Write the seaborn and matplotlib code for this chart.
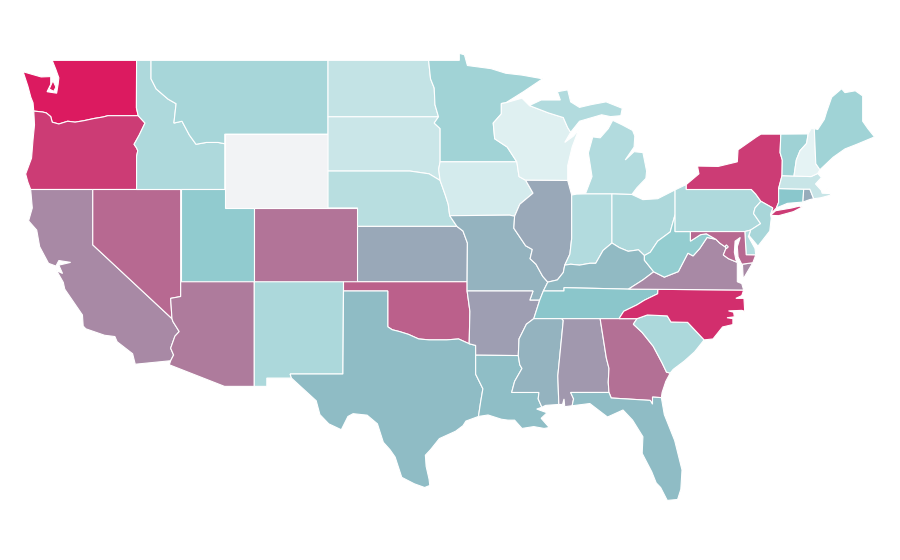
import matplotlib
matplotlib.use("Agg")
import matplotlib.pyplot as plt
import pandas as pd
import seaborn as sns

# values per state (0 = palest, 100 = deepest pink), WY has no value
state_names = ["WA", "OR", "CA", "NV", "ID", "MT", "WY", "UT", "AZ", "CO", "NM", "ND", "SD", "NE", "KS", "OK",
               "TX", "MN", "IA", "MO", "AR", "LA", "WI", "IL", "MI", "IN", "OH", "KY", "TN", "MS", "AL", "GA",
               "FL", "SC", "NC", "VA", "WV", "PA", "NY", "NJ", "DE", "MD", "DC", "CT", "RI", "MA", "VT", "NH", "ME"]
state_values = [100, 90, 68, 77, 32, 35.5, None, 46.5, 72, 74, 33, 21.5, 18, 27, 59, 80,
                53.5, 38.5, 13, 56, 62, 53, 7.5, 59, 30, 30, 32.5, 54, 50.5, 56, 64, 75,
                53.5, 33, 94, 68, 45, 32, 90, 35, 30, 77, 60, 50, 58, 19, 39.5, 4.5, 39]
scale_colors = ["#eef7f8", "#8ac8cc", "#dc1a60"]
no_data_color = "#f2f3f5"

# shared borders as (lon, lat), so neighbouring states line up
columbia = [(-124.0, 46.25), (-123.4, 46.2), (-123.15, 46.15), (-122.85, 45.95), (-122.75, 45.65), (-122.3, 45.55),
            (-121.7, 45.7), (-121.2, 45.65), (-120.6, 45.73), (-119.9, 45.85), (-119.3, 45.93), (-118.98, 46.0),
            (-116.92, 46.0)]
snake = [(-116.92, 46.0), (-116.46, 45.6), (-116.85, 44.95), (-117.2, 44.45), (-117.03, 44.25), (-116.95, 44.1),
         (-117.03, 43.8), (-117.03, 42)]
bitterroot = [(-116.05, 49), (-116.05, 48), (-115.7, 47.45), (-114.9, 46.9), (-114.35, 46.65), (-114.5, 45.6),
              (-113.95, 45.7), (-113.45, 44.95), (-113.0, 44.45), (-112.3, 44.55), (-111.5, 44.55), (-111.05, 44.48)]
colorado_river = [(-114.63, 35), (-114.57, 34.85), (-114.14, 34.3), (-114.43, 34.05), (-114.72, 33.4),
                  (-114.52, 33.03), (-114.72, 32.72)]
red_river = [(-100, 34.56), (-99.7, 34.4), (-99.2, 34.3), (-98.6, 34.15), (-97.9, 33.9), (-97.2, 33.85),
             (-96.6, 33.85), (-96.0, 33.85), (-95.2, 33.9), (-94.48, 33.64)]
red_north = [(-97.23, 49), (-97.1, 48), (-96.85, 47.5), (-96.8, 46.6), (-96.56, 45.94), (-96.85, 45.6),
             (-96.45, 45.3), (-96.45, 43.5)]
missouri = [(-96.45, 43.5), (-96.55, 43.1), (-96.45, 42.49), (-96.1, 41.7), (-95.9, 41.2), (-95.8, 40.58),
            (-95.31, 40)]
miss_upper = [(-92.3, 46.66), (-92.3, 46.1), (-92.85, 45.6), (-92.75, 44.75), (-91.9, 44.3), (-91.25, 43.5),
              (-91.1, 42.7), (-90.65, 42.5)]
miss_ia = [(-90.65, 42.5), (-90.15, 41.8), (-91.05, 41.2), (-91.4, 40.55)]
miss_mo = [(-91.4, 40.55), (-91.45, 39.9), (-90.65, 38.95), (-90.2, 38.75), (-90.35, 38.25), (-89.95, 37.95),
           (-89.5, 37.3), (-89.15, 36.98)]
miss_ar = [(-90.1, 35), (-90.6, 34.7), (-91.1, 33.9), (-91.15, 33)]
miss_la = [(-91.15, 33), (-91.05, 32.5), (-90.9, 32.3), (-91.4, 31.6), (-91.6, 31)]
ohio_il = [(-89.15, 36.98), (-88.5, 37.1), (-88.1, 37.5), (-88, 37.9)]
ohio_in = [(-88, 37.9), (-87.6, 37.95), (-87, 37.9), (-86.3, 38), (-85.9, 38), (-85.4, 38.7), (-84.8, 39.1)]
ohio_oh = [(-84.8, 39.1), (-84.3, 38.85), (-83.7, 38.65), (-83, 38.73), (-82.6, 38.42)]
ohio_wv = [(-82.6, 38.42), (-82.2, 38.6), (-81.7, 39.2), (-80.85, 39.7), (-80.52, 40.64)]
tn_nc = [(-81.68, 36.59), (-81.7, 36.35), (-82.6, 36), (-83.1, 35.75), (-84, 35.4), (-84.32, 35)]
savannah = [(-83.1, 35), (-83.35, 34.7), (-82.75, 34.25), (-82, 33.5), (-81.4, 32.6), (-81.1, 32.1), (-80.85, 32.05)]
carolina = [(-83.1, 35), (-82.4, 35.2), (-81.05, 35.15), (-80.8, 34.82), (-79.67, 34.8), (-78.55, 33.85)]
chattahoochee = [(-85.6, 35), (-85.18, 32.87), (-85, 32.3), (-85.05, 31.55), (-85, 31)]
va_wv = [(-77.75, 39.3), (-78.35, 39.4), (-78.85, 38.8), (-79.3, 38.4), (-79.65, 38.55), (-80.3, 37.55),
         (-81.25, 37.25), (-81.97, 37.54)]
potomac_wv = [(-77.75, 39.3), (-78.4, 39.6), (-78.8, 39.55), (-79.48, 39.2)]
potomac_va = [(-76.3, 38.05), (-76.9, 38.25), (-77.25, 38.45), (-77.05, 38.85), (-77.5, 39.1), (-77.75, 39.3)]
delaware_ny = [(-75.35, 42), (-75.05, 41.75), (-74.7, 41.36)]
delaware_nj = [(-74.7, 41.36), (-75.1, 41), (-75.2, 40.7), (-74.72, 40.15), (-75.4, 39.8)]
vt_nh = [(-71.5, 45.01), (-71.6, 44.5), (-72.05, 44.1), (-72.3, 43.6), (-72.46, 42.73)]
ny_vt = [(-73.35, 45), (-73.4, 44), (-73.25, 43.6), (-73.27, 42.75)]

outlines = {
    "WA": [[(-124.05, 46.7), (-124.2, 47.0), (-124.4, 47.6), (-124.72, 48.38), (-123.5, 48.1), (-122.85, 48.12),
            (-122.85, 47.7), (-123.1, 47.3), (-122.45, 47.22), (-122.35, 47.7), (-122.3, 48.05),
            (-122.5, 48.5), (-122.75, 49), (-117.03, 49), (-117.04, 46.42)] + columbia[::-1],
           [(-122.7, 47.9), (-122.95, 47.45), (-122.65, 47.32), (-122.5, 47.55)]],
    "OR": [columbia + snake[1:] + [(-124.21, 42), (-124.4, 42.4), (-124.55, 42.84), (-124.15, 43.7), (-124.05, 44.7),
                                   (-123.95, 45.5)]],
    "CA": [[(-124.21, 42), (-120, 42), (-120, 39)] + colorado_river +
           [(-117.12, 32.53), (-117.3, 33.1), (-118.35, 33.75), (-118.5, 34.03), (-119.2, 34.1),
            (-120.47, 34.45), (-120.65, 34.6), (-120.7, 35.2), (-121.9, 36.6), (-122.0, 36.97), (-122.45, 37.6),
            (-122.05, 37.45), (-122.3, 37.9), (-121.5, 38.05), (-122.3, 38.15), (-122.5, 37.85), (-123, 38.0),
            (-123.6, 38.9), (-123.8, 39.8), (-124.35, 40.3), (-124.1, 41.0)]],
    "NV": [[(-120, 42), (-114.04, 42), (-114.04, 36.2), (-114.72, 36.1), (-114.63, 35), (-120, 39)]],
    "ID": [[(-117.03, 49)] + bitterroot + [(-111.05, 42)] + snake[::-1] + [(-117.04, 46.42)]],
    "MT": [[(-116.05, 49), (-104.05, 49), (-104.05, 45), (-111.05, 45)] + bitterroot[::-1]],
    "WY": [[(-111.05, 45), (-104.05, 45), (-104.05, 41), (-111.05, 41)]],
    "UT": [[(-114.04, 42), (-111.05, 42), (-111.05, 41), (-109.05, 41), (-109.05, 37), (-114.04, 37)]],
    "AZ": [[(-114.04, 37), (-109.05, 37), (-109.05, 31.33), (-111.07, 31.33), (-114.81, 32.5)] + colorado_river[::-1] +
           [(-114.72, 36.1), (-114.04, 36.2)]],
    "CO": [[(-109.05, 41), (-102.05, 41), (-102.05, 37), (-109.05, 37)]],
    "NM": [[(-109.05, 37), (-103, 37), (-103.04, 32), (-106.62, 32), (-106.53, 31.78), (-108.2, 31.78),
            (-108.2, 31.33), (-109.05, 31.33)]],
    "ND": [[(-104.05, 49)] + red_north[:5] + [(-104.05, 45.94)]],
    "SD": [[(-104.05, 45.94)] + red_north[4:] + missouri[1:3] + [(-97.2, 42.85), (-98.5, 43), (-104.05, 43)]],
    "NE": [[(-104.05, 43), (-98.5, 43), (-97.2, 42.85)] + missouri[2:] + [(-102.05, 40), (-102.05, 41), (-104.05, 41)]],
    "KS": [[(-102.05, 40), (-95.31, 40), (-94.9, 39.75), (-94.6, 39.1), (-94.62, 37), (-102.05, 37)]],
    "OK": [[(-103, 37), (-94.62, 37), (-94.62, 36.5), (-94.43, 35.4)] + red_river[::-1] +
           [(-100, 36.5), (-103, 36.5)]],
    "TX": [[(-103, 36.5), (-100, 36.5)] + red_river +
           [(-94.04, 33.55), (-94.04, 33.02), (-94.04, 31.99), (-93.55, 31.2), (-93.7, 30.5), (-93.85, 29.7),
            (-94.7, 29.45), (-94.9, 29.2), (-95.4, 28.9), (-96.5, 28.5), (-97.1, 27.9), (-97.45, 27.6), (-97.4, 27.0),
            (-97.2, 26.3), (-97.15, 25.96), (-97.5, 25.85), (-98.2, 26.05), (-99.05, 26.4), (-99.5, 27.5),
            (-99.85, 27.9), (-100.3, 28.3), (-100.7, 29.3), (-101.4, 29.77), (-102.35, 29.85), (-102.7, 29.7),
            (-103.15, 28.98), (-104.0, 29.3), (-104.6, 29.8), (-104.85, 30.55), (-106.0, 31.39), (-106.53, 31.78),
            (-106.62, 32), (-103.04, 32)]],
    "MN": [[(-97.23, 49), (-95.15, 49), (-95.15, 49.38), (-94.8, 49.3), (-94.6, 48.72), (-93.0, 48.55), (-92.0, 48.3),
            (-90.9, 48.2), (-89.5, 48.0), (-90.8, 47.3), (-92.0, 46.7)] + miss_upper[:6] + red_north[::-1]],
    "IA": [[(-96.45, 43.5)] + miss_upper[5:] + miss_ia[1:] + [(-91.73, 40.61), (-95.8, 40.58)] + missouri[4::-1][:-1]],
    "WI": [[(-92.0, 46.7), (-90.9, 46.95), (-90.4, 46.55), (-89.1, 46.15), (-88.1, 45.9), (-87.8, 45.35), (-87.6, 45.1),
            (-88.0, 44.55), (-87.4, 44.9), (-87.05, 45.25), (-87.5, 44.3), (-87.8, 43.3), (-87.8, 42.49)] +
           miss_upper[::-1]],
    "IL": [[(-90.65, 42.5), (-87.8, 42.49), (-87.53, 41.7), (-87.53, 39.35), (-87.65, 38.5)] + ohio_il[::-1] +
           miss_mo[::-1] + miss_ia[::-1][1:]],
    "MI": [[(-86.6, 41.76), (-84.8, 41.76), (-83.45, 41.73), (-83.1, 42.1), (-82.5, 42.6), (-82.45, 43.0),
            (-82.7, 44.0), (-83.3, 44.05), (-83.9, 43.6), (-83.3, 44.3), (-83.25, 44.9), (-83.4, 45.2), (-84.1, 45.5),
            (-84.75, 45.75), (-85.05, 45.3), (-85.6, 44.8), (-86.1, 44.85), (-86.4, 43.98), (-86.15, 42.7)],
           [(-90.4, 46.55), (-89.1, 46.15), (-88.1, 45.9), (-87.8, 45.35), (-87.6, 45.1), (-87.0, 45.7),
            (-85.5, 46.05), (-84.9, 45.95), (-84.2, 46.0), (-84.1, 46.4), (-85.2, 46.75), (-86.2, 46.6),
            (-87.0, 46.45), (-87.6, 46.75), (-87.8, 47.4), (-88.5, 47.3), (-88.3, 46.85), (-89.6, 46.85)]],
    "IN": [[(-87.53, 41.7), (-87.2, 41.75), (-86.6, 41.76), (-84.8, 41.76)] + ohio_in[::-1] +
           [(-87.65, 38.5), (-87.53, 39.35)]],
    "OH": [[(-84.8, 41.76), (-83.45, 41.73), (-82.7, 41.45), (-81.7, 41.5), (-80.52, 41.98)] + ohio_wv[::-1] +
           ohio_oh[::-1][1:]],
    "KY": [[(-89.45, 36.5)] + [(-89.15, 36.98)] + ohio_il[1:] + ohio_in[1:] + ohio_oh[1:] +
           [(-82.6, 38.17), (-81.97, 37.54), (-82.7, 37.1), (-83.68, 36.6), (-88.05, 36.68), (-88.05, 36.5)]],
    "TN": [[(-89.7, 36), (-89.45, 36.5), (-88.05, 36.5), (-88.05, 36.68), (-83.68, 36.6)] + tn_nc + [(-90.1, 35)]],
    "MO": [[(-95.8, 40.58), (-91.73, 40.61)] + miss_mo + [(-89.45, 36.5), (-89.7, 36), (-90.37, 36), (-90.15, 36.5),
            (-94.62, 36.5), (-94.62, 37), (-94.6, 39.1), (-94.9, 39.75), (-95.31, 40)]],
    "AR": [[(-94.62, 36.5), (-90.15, 36.5), (-90.37, 36), (-89.7, 36)] + miss_ar +
           [(-94.04, 33.02), (-94.04, 33.55), (-94.48, 33.64), (-94.43, 35.4)]],
    "LA": [[(-94.04, 33.02)] + miss_la + [(-89.75, 31), (-89.8, 30.65), (-89.55, 30.2), (-89.9, 30.1), (-89.2, 29.9),
            (-89.6, 29.6), (-89.05, 29.1), (-89.4, 29.05), (-90.1, 29.15), (-90.9, 29.05), (-91.4, 29.5),
            (-91.85, 29.5), (-92.3, 29.55), (-93.2, 29.78), (-93.85, 29.7), (-93.7, 30.5), (-93.55, 31.2),
            (-94.04, 31.99)]],
    "MS": [miss_la[::-1] + miss_ar[::-1][1:] + [(-88.2, 35), (-88.1, 34.9), (-88.47, 31.9), (-88.4, 30.35),
            (-89.3, 30.3), (-89.55, 30.2), (-89.8, 30.65), (-89.75, 31)]],
    "AL": [[(-88.2, 35)] + chattahoochee + [(-87.6, 31), (-87.4, 30.65), (-87.5, 30.28), (-88.0, 30.23),
            (-88.05, 30.65), (-88.15, 30.35), (-88.4, 30.35), (-88.47, 31.9), (-88.1, 34.9)]],
    "GA": [chattahoochee[::-1] + savannah + [(-81.15, 31.6), (-81.4, 31.0), (-81.45, 30.72), (-82.05, 30.75),
            (-82.05, 30.36), (-82.2, 30.57), (-84.85, 30.7)]],
    "FL": [[(-87.6, 31), (-85, 31), (-84.85, 30.7), (-82.2, 30.57), (-82.05, 30.36), (-82.05, 30.75), (-81.45, 30.72),
            (-81.25, 29.8), (-80.55, 28.4), (-80.05, 26.8), (-80.13, 25.75), (-80.35, 25.2), (-81.05, 25.15),
            (-81.5, 25.85), (-81.8, 26.1), (-82.1, 26.7), (-82.75, 27.7), (-82.7, 28.6), (-83.4, 29.5), (-84.05, 30.05),
            (-85.1, 29.67), (-85.4, 29.85), (-86.3, 30.4), (-87.5, 30.28), (-87.4, 30.65)]],
    "SC": [carolina + [(-79.2, 33.2), (-79.9, 32.7), (-80.65, 32.25)] + savannah[::-1]],
    "NC": [[(-84.32, 35)] + carolina + [(-77.95, 33.9), (-77.3, 34.55), (-76.6, 34.68), (-76.6, 35.0), (-77.0, 35.05),
            (-76.5, 35.1), (-76.55, 35.35), (-76.9, 35.42), (-76.0, 35.45), (-75.8, 35.4), (-75.85, 36.1),
            (-76.4, 36.1), (-76.0, 36.25), (-75.87, 36.55)] + tn_nc[:-1]],
    "VA": [[(-83.68, 36.6), (-81.68, 36.59), (-75.87, 36.55), (-76.0, 36.9), (-76.3, 37.0), (-76.3, 37.6)] +
           potomac_va + va_wv[1:] + [(-82.7, 37.1)],
           [(-75.95, 37.95), (-75.25, 38.03), (-75.9, 37.15)]],
    "WV": [[(-80.52, 40.64), (-80.52, 39.72), (-79.48, 39.72)] + potomac_wv[::-1] + va_wv[1:] +
           [(-82.6, 38.17)] + ohio_wv[:-1]],
    "PA": [[(-80.52, 41.98), (-79.76, 42.27), (-79.76, 42)] + delaware_ny + delaware_nj[1:] +
           [(-75.79, 39.72), (-80.52, 39.72)]],
    "NY": [[(-79.76, 42.27), (-78.9, 42.85), (-79.0, 43.27), (-77.6, 43.25), (-76.3, 43.5), (-76.25, 44.15),
            (-75.0, 44.85), (-74.7, 45.0)] + ny_vt + [(-73.5, 42.05), (-73.5, 41.3), (-73.65, 41.0), (-74.0, 40.7),
            (-73.9, 41.0)] + delaware_ny[::-1] + [(-79.76, 42)],
           [(-74.05, 40.6), (-73.7, 40.85), (-72.6, 41.0), (-72.1, 41.1), (-71.9, 41.05), (-72.5, 40.8),
            (-73.5, 40.58)]],
    "NJ": [[(-74.7, 41.36), (-73.9, 41), (-74.05, 40.65), (-74.0, 40.45), (-74.1, 39.75), (-74.9, 38.93),
            (-75.5, 39.5)] + delaware_nj[::-1][:-1]],
    "DE": [[(-75.79, 39.72), (-75.4, 39.8), (-75.55, 39.45), (-75.1, 38.8), (-75.05, 38.45), (-75.7, 38.46)]],
    "MD": [[(-79.48, 39.72), (-75.79, 39.72), (-75.7, 38.46), (-75.05, 38.45), (-75.25, 38.03), (-76.0, 37.95),
            (-76.25, 38.35), (-76.3, 38.9), (-76.1, 39.4), (-76.45, 39.2), (-76.5, 38.6), (-76.4, 38.2)] + potomac_va +
           potomac_wv[1:]],
    "DC": [[(-77.12, 38.93), (-77.04, 39), (-76.91, 38.89), (-77.04, 38.79)]],
    "CT": [[(-73.5, 42.05), (-71.8, 42.02), (-71.85, 41.32), (-72.9, 41.25), (-73.65, 41.0), (-73.5, 41.3)]],
    "RI": [[(-71.8, 42.02), (-71.38, 42.02), (-71.12, 41.5), (-71.4, 41.45), (-71.85, 41.32)]],
    "MA": [[(-73.5, 42.05), (-73.27, 42.75), (-72.46, 42.73), (-71.3, 42.7), (-70.85, 42.87), (-70.6, 42.65),
            (-71.0, 42.3), (-70.6, 41.95), (-70.55, 41.8), (-70.05, 41.78), (-70.25, 42.07), (-69.95, 41.7),
            (-70.65, 41.55), (-71.12, 41.5), (-71.38, 42.02), (-71.8, 42.02)]],
    "VT": [ny_vt + [(-72.46, 42.73)] + vt_nh[::-1]],
    "NH": [vt_nh + [(-71.3, 42.7), (-70.85, 42.87), (-70.7, 43.07), (-70.98, 43.4), (-71.08, 45.3), (-71.3, 45.3)]],
    "ME": [[(-71.08, 45.3), (-70.85, 45.25), (-70.4, 45.8), (-70.25, 46.2), (-69.9, 47.0), (-69.23, 47.46),
            (-69.0, 47.25), (-68.3, 47.35), (-67.8, 47.07), (-67.8, 45.7), (-67.45, 45.3), (-67.0, 44.85),
            (-68.2, 44.45), (-69.0, 44.2), (-69.8, 43.75), (-70.7, 43.07), (-70.98, 43.4)]],
}

df = pd.DataFrame({"state": state_names, "value": state_values})

sns.set_theme(style="white")
cmap = sns.blend_palette(scale_colors, as_cmap=True)

fig = plt.figure(figsize=(9, 5.6), dpi=100)
ax = fig.add_axes([0, 0, 1, 1])

for row in df.itertuples():
    fill = no_data_color if pd.isna(row.value) else cmap(row.value / 100)
    for part in outlines[row.state]:
        lons, lats = zip(*part)
        ax.fill(lons, lats, facecolor=fill, edgecolor="white", linewidth=0.8)

# plain lon/lat frame, the same px per degree as the reference
ax.set_xlim(-126.29, -65.27)
ax.set_ylim(21.92, 52.27)
ax.set_axis_off()

plt.savefig("out.png", dpi=100)
plt.close()
